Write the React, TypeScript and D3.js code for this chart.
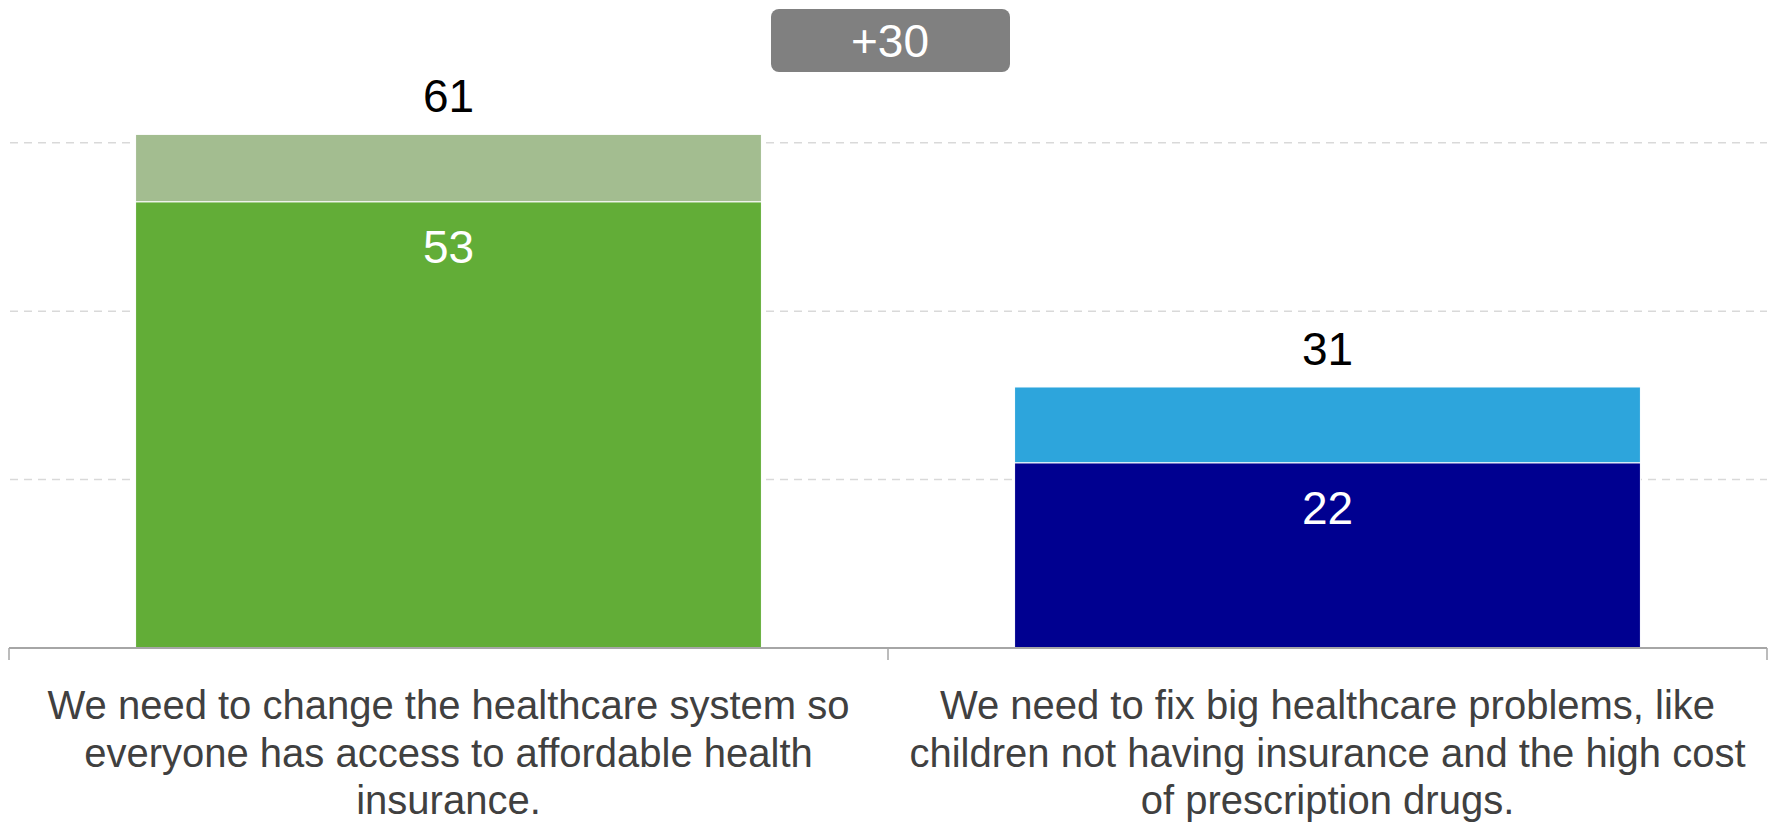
import React from "react";
import * as d3 from "d3";

const categories = ["change", "fix"];
const labelLines = [
  ["We need to change the healthcare system so", "everyone has access to affordable health", "insurance."],
  ["We need to fix big healthcare problems, like", "children not having insurance and the high cost", "of prescription drugs."],
];
const baseValues = [53, 22];
const totalValues = [61, 31];
const baseColors = ["#62AD37", "#000090"];
const topColors = ["#A3BD90", "#2DA5DC"];
const gridTicks = [20, 40, 60];
const diffLabel = "+30";

const W = 1776;
const H = 823;
const FONT = "'Liberation Sans', Arial, Helvetica, sans-serif";

export default function App() {
  const x = d3.scaleBand<string>().domain(categories).range([9, 1767]).paddingInner(0).paddingOuter(0);
  const y = d3.scaleLinear().domain([0, 70]).range([648, 648 - 8.42 * 70]);
  const bw = x.bandwidth() * 0.712;
  const baseY = y(0);

  return (
    <svg width={W} height={H} style={{ position: "absolute", left: 0, top: 0, background: "#fff" }} fontFamily={FONT}>
      {gridTicks.map((t) => (
        <line key={t} x1={10} x2={1767} y1={y(t)} y2={y(t)} stroke="#D9D9D9" strokeWidth={1.5} strokeDasharray="8,6" />
      ))}
      {categories.map((c, i) => {
        const cx = (x(c) as number) + x.bandwidth() / 2;
        const x0 = cx - bw / 2;
        return (
          <g key={c}>
            <rect x={x0} y={y(baseValues[i])} width={bw} height={baseY - y(baseValues[i])} fill={baseColors[i]} stroke="#fff" strokeWidth={1} />
            <rect x={x0} y={y(totalValues[i])} width={bw} height={y(baseValues[i]) - y(totalValues[i])} fill={topColors[i]} stroke="#fff" strokeWidth={1} />
            <text x={cx} y={y(totalValues[i]) - 22} textAnchor="middle" fontSize={46} fill="#000">
              {totalValues[i]}
            </text>
            <text x={cx} y={y(baseValues[i]) + 61} textAnchor="middle" fontSize={46} fill="#fff">
              {baseValues[i]}
            </text>
            {labelLines[i].map((ln, j) => (
              <text key={j} x={cx} y={719 + j * 47.5} textAnchor="middle" fontSize={40} fill="#404040">
                {ln}
              </text>
            ))}
          </g>
        );
      })}
      <line x1={9} x2={1767} y1={baseY} y2={baseY} stroke="#A6A6A6" strokeWidth={2} />
      {[...categories.map((c) => x(c) as number), 1767].map((tx, k) => (
        <line key={k} x1={tx} x2={tx} y1={baseY} y2={baseY + 12} stroke="#A6A6A6" strokeWidth={1.5} />
      ))}
      <rect x={771} y={9} width={239} height={63} rx={8} ry={8} fill="#808080" />
      <text x={890} y={57} textAnchor="middle" fontSize={46} fill="#fff">
        {diffLabel}
      </text>
    </svg>
  );
}
